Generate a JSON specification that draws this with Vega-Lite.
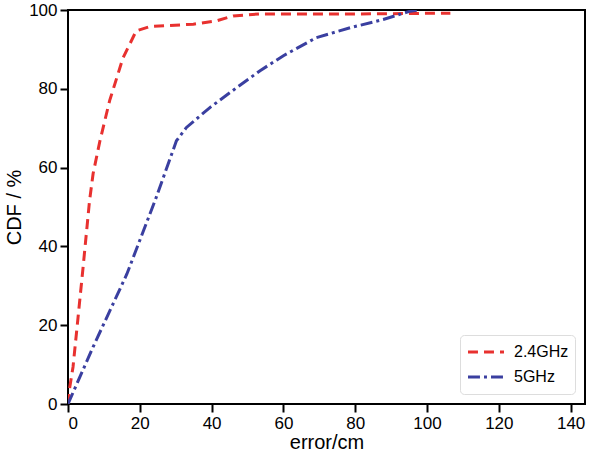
{
  "$schema": "https://vega.github.io/schema/vega-lite/v6.json",
  "width": 517,
  "height": 394,
  "autosize": {"type": "none"},
  "padding": {"left": 68, "top": 10, "right": 4, "bottom": 55},
  "background": "white",
  "config": {
    "view": {"stroke": "black", "strokeWidth": 2},
    "font": "Liberation Sans",
    "axis": {
      "grid": false,
      "domain": false,
      "tickColor": "black",
      "tickWidth": 2,
      "tickSize": 8,
      "labelColor": "black",
      "labelFontSize": 17,
      "labelFont": "Liberation Sans",
      "titleFont": "Liberation Sans",
      "titleFontWeight": "normal",
      "titleColor": "black",
      "titleFontSize": 20,
      "labelPadding": 3
    }
  },
  "data": {
    "values": [
      {"series": "2.4GHz", "x": 0, "y": 0},
      {"series": "2.4GHz", "x": 0.5, "y": 4.3},
      {"series": "2.4GHz", "x": 1.4, "y": 9.4},
      {"series": "2.4GHz", "x": 2.8, "y": 22},
      {"series": "2.4GHz", "x": 4.2, "y": 34.7},
      {"series": "2.4GHz", "x": 6, "y": 51.6},
      {"series": "2.4GHz", "x": 7, "y": 58.5},
      {"series": "2.4GHz", "x": 8.9, "y": 66.8},
      {"series": "2.4GHz", "x": 11.6, "y": 77},
      {"series": "2.4GHz", "x": 15.3, "y": 87.8},
      {"series": "2.4GHz", "x": 19, "y": 94.7},
      {"series": "2.4GHz", "x": 22.8, "y": 95.8},
      {"series": "2.4GHz", "x": 34.9, "y": 96.4},
      {"series": "2.4GHz", "x": 41.2, "y": 97.2},
      {"series": "2.4GHz", "x": 46, "y": 98.5},
      {"series": "2.4GHz", "x": 53.3, "y": 99},
      {"series": "2.4GHz", "x": 80.4, "y": 99},
      {"series": "2.4GHz", "x": 106.5, "y": 99.2},
      {"series": "5GHz", "x": 0, "y": 0},
      {"series": "5GHz", "x": 7, "y": 14.5},
      {"series": "5GHz", "x": 16.4, "y": 33},
      {"series": "5GHz", "x": 24.4, "y": 52},
      {"series": "5GHz", "x": 30.2, "y": 66.8},
      {"series": "5GHz", "x": 33, "y": 70.2},
      {"series": "5GHz", "x": 39.6, "y": 75.3},
      {"series": "5GHz", "x": 47, "y": 80.3},
      {"series": "5GHz", "x": 53.5, "y": 84.6},
      {"series": "5GHz", "x": 60, "y": 88.4},
      {"series": "5GHz", "x": 69.2, "y": 93},
      {"series": "5GHz", "x": 78.6, "y": 95.5},
      {"series": "5GHz", "x": 87.8, "y": 97.6},
      {"series": "5GHz", "x": 95.3, "y": 99.7},
      {"series": "5GHz", "x": 97.5, "y": 100}
    ]
  },
  "mark": {"type": "line", "strokeWidth": 3, "clip": true},
  "encoding": {
    "x": {
      "field": "x",
      "type": "quantitative",
      "scale": {"domain": [0, 144], "nice": false},
      "axis": {"values": [0, 20, 40, 60, 80, 100, 120, 140], "title": "error/cm", "titlePadding": 1}
    },
    "y": {
      "field": "y",
      "type": "quantitative",
      "scale": {"domain": [0, 100], "nice": false},
      "axis": {"values": [0, 20, 40, 60, 80, 100], "title": "CDF / %", "titlePadding": 4}
    },
    "color": {
      "field": "series",
      "type": "nominal",
      "scale": {"domain": ["2.4GHz", "5GHz"], "range": ["#e8312f", "#3a3fa0"]},
      "legend": {
        "title": null,
        "orient": "bottom-right",
        "offset": 10,
        "labelFontSize": 16,
        "labelColor": "black",
        "labelOffset": 8,
        "symbolType": "stroke",
        "symbolSize": 1300,
        "symbolStrokeWidth": 3,
        "clipHeight": 22,
        "strokeColor": "#dddddd",
        "fillColor": "white",
        "cornerRadius": 4,
        "padding": 6,
        "rowPadding": 3
      }
    },
    "strokeDash": {
      "field": "series",
      "type": "nominal",
      "scale": {"domain": ["2.4GHz", "5GHz"], "range": [[10, 6], [12, 4, 3, 4]]},
      "legend": {
        "title": null,
        "orient": "bottom-right",
        "offset": 10,
        "labelFontSize": 16,
        "labelColor": "black",
        "labelOffset": 8,
        "symbolType": "stroke",
        "symbolSize": 1300,
        "symbolStrokeWidth": 3,
        "clipHeight": 22,
        "strokeColor": "#dddddd",
        "fillColor": "white",
        "cornerRadius": 4,
        "padding": 6,
        "rowPadding": 3
      }
    }
  }
}
